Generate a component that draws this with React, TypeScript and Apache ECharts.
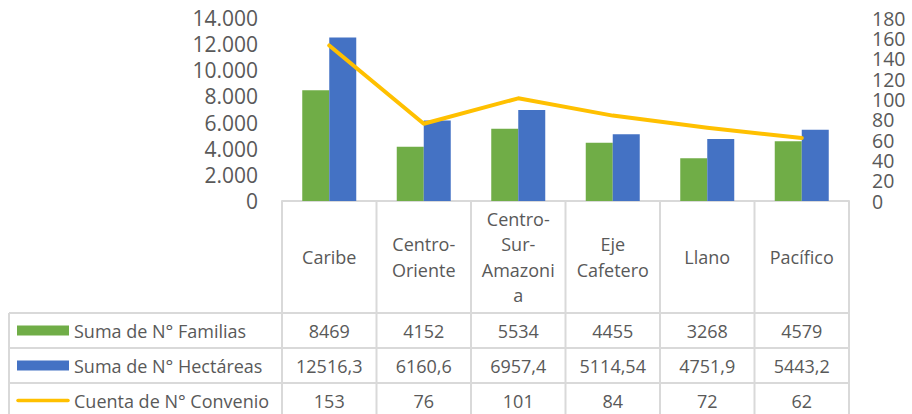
import React, { useEffect, useRef } from "react";
import * as echarts from "echarts";

const categories = ["Caribe", "Centro-Oriente", "Centro-Sur-Amazonia", "Eje Cafetero", "Llano", "Pacífico"];
const headerLabels = ["Caribe", "Centro-\nOriente", "Centro-\nSur-\nAmazoni\na", "Eje\nCafetero", "Llano", "Pacífico"];
const familias = [8469, 4152, 5534, 4455, 3268, 4579];
const hectareas = [12516.3, 6160.6, 6957.4, 5114.54, 4751.9, 5443.2];
const convenios = [153, 76, 101, 84, 72, 62];
const seriesNames = ["Suma de N° Familias", "Suma de N° Hectáreas", "Cuenta de N° Convenio"];
const colors = ["#70AD47", "#4472C4", "#FFC000"];
const leftAxis = { min: 0, max: 14000, interval: 2000 };
const rightAxis = { min: 0, max: 180, interval: 20 };

const FONT = "'Open Sans', sans-serif";
const TEXT = "#595959";
const GRIDC = "#d9d9d9";

const thousands = (v: number) => String(v).replace(/\B(?=(\d{3})+(?!\d))/g, ".");
const dec = (v: number) => String(v).replace(".", ",");

export default function App() {
  const ref = useRef<HTMLDivElement>(null);
  useEffect(() => {
    if (!ref.current) return;
    const chart = echarts.init(ref.current, undefined, { renderer: "svg" });
    const gridTop = 18;
    const gridBottom = 213;
    chart.setOption({
      animation: false,
      grid: { left: 282, right: 63, top: gridTop, bottom: gridBottom },
      xAxis: {
        type: "category",
        data: categories,
        axisLine: { show: true, lineStyle: { color: GRIDC, width: 2 } },
        axisTick: { show: false },
        axisLabel: { show: false },
      },
      yAxis: [
        {
          type: "value",
          ...leftAxis,
          axisLine: { show: false },
          axisTick: { show: false },
          splitLine: { show: false },
          axisLabel: {
            color: TEXT, fontSize: 21, fontFamily: FONT, margin: 24, lineHeight: 24,
            showMinLabel: true, showMaxLabel: true, hideOverlap: false,
            formatter: (v: number) => thousands(v),
          },
        },
        {
          type: "value",
          ...rightAxis,
          position: "right",
          axisLine: { show: false },
          axisTick: { show: false },
          splitLine: { show: false },
          axisLabel: {
            color: TEXT, fontSize: 19.5, fontFamily: FONT, margin: 23, lineHeight: 18,
            showMinLabel: true, showMaxLabel: true, hideOverlap: false, interval: 0,
          },
        },
      ],
      series: [
        { name: seriesNames[0], type: "bar", data: familias, barWidth: 27, barGap: "0%", itemStyle: { color: colors[0] } },
        { name: seriesNames[1], type: "bar", data: hectareas, barWidth: 27, barGap: "0%", itemStyle: { color: colors[1] } },
        {
          name: seriesNames[2],
          type: "line",
          yAxisIndex: 1,
          data: convenios,
          showSymbol: false,
          symbol: "none",
          lineStyle: { color: colors[2], width: 4, cap: "round", join: "round" },
          itemStyle: { color: colors[2] },
        },
      ],
    });

    const centers = categories.map((c) => chart.convertToPixel({ xAxisIndex: 0 }, c) as number);
    const w = centers.length > 1 ? centers[1] - centers[0] : 94;
    const bounds = [...centers.map((c) => c - w / 2), centers[centers.length - 1] + w / 2];
    const yTop = 414 - gridBottom;
    const rowLines = [313, 348, 383, 418];
    const tableLeft = 9;
    const right = bounds[bounds.length - 1];
    const els: any[] = [];
    const ls = { stroke: GRIDC, lineWidth: 2 };
    bounds.forEach((x) => els.push({ type: "line", shape: { x1: x, y1: yTop, x2: x, y2: 420 }, style: ls }));
    els.push({ type: "line", shape: { x1: tableLeft, y1: rowLines[0], x2: tableLeft, y2: 420 }, style: ls });
    rowLines.forEach((y) => els.push({ type: "line", shape: { x1: tableLeft, y1: y, x2: right, y2: y }, style: ls }));
    const txt = (text: string, x: number, y: number, align = "center") => ({
      type: "text",
      style: {
        text, x, y, fill: TEXT, fontSize: 18, fontFamily: FONT,
        textAlign: align, textVerticalAlign: "middle", align, verticalAlign: "middle", lineHeight: 25.5,
      },
    });
    headerLabels.forEach((h, i) => els.push(txt(h, centers[i], (yTop + rowLines[0]) / 2)));
    const rows = [familias.map(dec), hectareas.map(dec), convenios.map(dec)];
    rows.forEach((r, ri) => {
      const cy = (rowLines[ri] + rowLines[ri + 1]) / 2;
      r.forEach((t, i) => els.push(txt(t, centers[i], cy)));
      els.push(txt(seriesNames[ri], 74, cy, "left"));
      if (ri < 2) {
        els.push({ type: "rect", shape: { x: 17, y: cy - 5, width: 52, height: 10 }, style: { fill: colors[ri] } });
      } else {
        els.push({ type: "line", shape: { x1: 18, y1: cy, x2: 68, y2: cy }, style: { stroke: colors[ri], lineWidth: 3.5, lineCap: "round" } });
      }
    });
    chart.setOption({ graphic: { elements: els } });
    return () => chart.dispose();
  }, []);
  return <div ref={ref} style={{ position: "fixed", left: 0, top: 0, width: 912, height: 414, background: "#fff" }} />;
}
